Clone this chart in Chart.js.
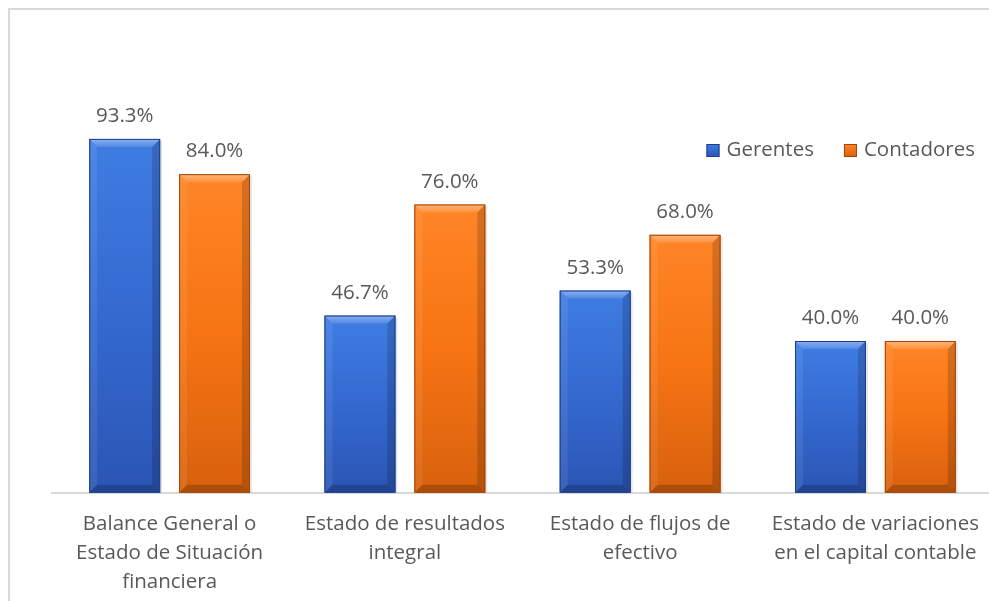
<!DOCTYPE html>
<html>
<head>
<meta charset="utf-8">
<script src="https://cdn.jsdelivr.net/npm/chart.js@4.4.1/dist/chart.umd.min.js"></script>
<style>
  html, body { margin: 0; padding: 0; background: #fff; overflow: hidden; }
  #wrap { position: relative; width: 989px; height: 601px; overflow: hidden; }
  #frame { position: absolute; left: 8px; top: 8px; width: 2000px; height: 2000px;
           border-left: 2px solid #d9d9d9; border-top: 2px solid #d9d9d9; }
  #resultsChart { position: absolute; left: 0; top: 0; }
</style>
</head>
<body>
<div id="wrap">
  <div id="frame"></div>
  <canvas id="resultsChart" width="1000" height="614"></canvas>
</div>
<script>
// categories (multi-line labels as in the original)
var categories = [
    ['Balance General o', 'Estado de Situación', 'financiera'],
    ['Estado de resultados', 'integral'],
    ['Estado de flujos de', 'efectivo'],
    ['Estado de variaciones', 'en el capital contable']
];
var gerentes = [93.3, 46.7, 53.3, 40.0];
var contadores = [84.0, 76.0, 68.0, 40.0];

var palette = {
    gerentes: { light: '#3f7de3', mid: '#3469d0', dark: '#2b55b4', edge: '#1f3f8c' },
    contadores: { light: '#ff8526', mid: '#f67414', dark: '#d8610d', edge: '#a24608' }
};

// bevel look of the Excel bars, drawn on top of each bar element
var bevelBars = {
    id: 'bevelBars',
    afterDatasetsDraw: function (chart) {
        var ctx = chart.ctx;
        chart.data.datasets.forEach(function (ds, i) {
            var p = ds._pal;
            chart.getDatasetMeta(i).data.forEach(function (bar) {
                var w = bar.width, l = bar.x - w / 2, r = bar.x + w / 2;
                var t = bar.y, b = bar.base, h = b - t, bv = Math.min(8, h / 3);
                ctx.save();
                // soft shadow
                ctx.fillStyle = 'rgba(0,0,0,0.10)';
                ctx.fillRect(l + 2, t + 2, w, h - 2);
                // body
                var g = ctx.createLinearGradient(0, t, 0, b);
                g.addColorStop(0, p.light);
                g.addColorStop(0.5, p.mid);
                g.addColorStop(1, p.dark);
                ctx.fillStyle = g;
                ctx.fillRect(l, t, w, h);
                // top bevel
                ctx.beginPath();
                ctx.moveTo(l, t); ctx.lineTo(r, t); ctx.lineTo(r - bv, t + bv); ctx.lineTo(l + bv, t + bv); ctx.closePath();
                var gt = ctx.createLinearGradient(0, t, 0, t + bv);
                gt.addColorStop(0, 'rgba(255,255,255,0.40)');
                gt.addColorStop(1, 'rgba(255,255,255,0.10)');
                ctx.fillStyle = gt; ctx.fill();
                // left bevel
                ctx.beginPath();
                ctx.moveTo(l, t); ctx.lineTo(l + bv, t + bv); ctx.lineTo(l + bv, b - bv); ctx.lineTo(l, b); ctx.closePath();
                ctx.fillStyle = 'rgba(255,255,255,0.08)'; ctx.fill();
                // right bevel
                ctx.beginPath();
                ctx.moveTo(r, t); ctx.lineTo(r - bv, t + bv); ctx.lineTo(r - bv, b - bv); ctx.lineTo(r, b); ctx.closePath();
                ctx.fillStyle = 'rgba(0,0,0,0.16)'; ctx.fill();
                // bottom bevel
                ctx.beginPath();
                ctx.moveTo(l, b); ctx.lineTo(l + bv, b - bv); ctx.lineTo(r - bv, b - bv); ctx.lineTo(r, b); ctx.closePath();
                ctx.fillStyle = 'rgba(0,0,0,0.20)'; ctx.fill();
                // outline
                ctx.strokeStyle = p.edge;
                ctx.lineWidth = 1;
                ctx.strokeRect(l + 0.5, t + 0.5, w - 1, h - 1);
                ctx.restore();
            });
        });
    }
};

// percentage labels above bars + legend inside the plot area (top right)
var labelsAndLegend = {
    id: 'labelsAndLegend',
    afterDraw: function (chart) {
        var ctx = chart.ctx, area = chart.chartArea;
        ctx.save();
        ctx.font = '20.5px "Open Sans"';
        ctx.fillStyle = '#595959';
        ctx.textAlign = 'center';
        ctx.textBaseline = 'alphabetic';
        chart.data.datasets.forEach(function (ds, i) {
            chart.getDatasetMeta(i).data.forEach(function (bar, j) {
                ctx.fillText(ds.data[j].toFixed(1) + '%', bar.x, bar.y - 17);
            });
        });

        // legend
        var box = 13, gapText = 7, gapItem = 30;
        var items = chart.data.datasets.map(function (ds) {
            return { ds: ds, w: ctx.measureText(ds.label).width };
        });
        var total = 0;
        items.forEach(function (it, k) { total += box + gapText + it.w + (k ? gapItem : 0); });
        var x = area.right - 18 - total, yc = area.top + 37;
        ctx.textAlign = 'left';
        ctx.textBaseline = 'middle';
        items.forEach(function (it) {
            var p = it.ds._pal;
            var g = ctx.createLinearGradient(0, yc - box / 2, 0, yc + box / 2);
            g.addColorStop(0, p.light); g.addColorStop(1, p.dark);
            ctx.fillStyle = g;
            ctx.fillRect(x, yc - box / 2, box, box);
            ctx.strokeStyle = p.edge; ctx.lineWidth = 1;
            ctx.strokeRect(x + 0.5, yc - box / 2 + 0.5, box - 1, box - 1);
            ctx.fillStyle = '#595959';
            ctx.fillText(it.ds.label, x + box + gapText, yc);
            x += box + gapText + it.w + gapItem;
        });
        ctx.restore();
    }
};

function makeChart() {
    Chart.defaults.font.family = '"Open Sans"';
    Chart.defaults.font.size = 20.5;
    Chart.defaults.color = '#595959';

    var ctx = document.getElementById('resultsChart').getContext('2d');
    new Chart(ctx, {
        type: 'bar',
        data: {
            labels: categories,
            datasets: [
                {
                    label: 'Gerentes',
                    data: gerentes,
                    backgroundColor: palette.gerentes.mid,
                    borderWidth: 0,
                    _pal: palette.gerentes
                },
                {
                    label: 'Contadores',
                    data: contadores,
                    backgroundColor: palette.contadores.mid,
                    borderWidth: 0,
                    _pal: palette.contadores
                }
            ]
        },
        options: {
            responsive: false,
            animation: false,
            categoryPercentage: 0.764,
            barPercentage: 0.789,
            layout: { padding: { left: 52, right: 7, top: 113.5, bottom: 0 } },
            scales: {
                x: {
                    grid: { display: false, drawTicks: false },
                    border: { display: true, color: '#d9d9d9', width: 2 },
                    ticks: { padding: 17, maxRotation: 0, autoSkip: false, font: { lineHeight: 1.42 } }
                },
                y: {
                    display: false,
                    min: 0,
                    max: 100
                }
            },
            plugins: {
                legend: { display: false },
                tooltip: { enabled: false }
            }
        },
        plugins: [bevelBars, labelsAndLegend]
    });
}

if (document.fonts && document.fonts.load) {
    document.fonts.load('20px "Open Sans"').then(makeChart, makeChart);
} else {
    makeChart();
}
</script>
</body>
</html>
